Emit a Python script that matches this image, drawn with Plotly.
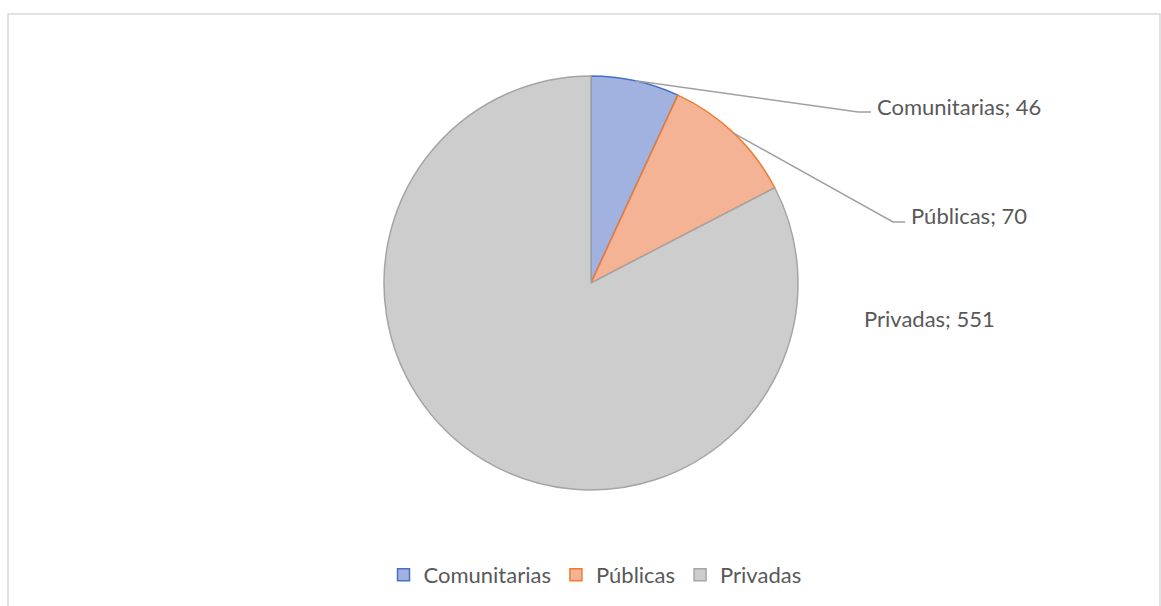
import math
import plotly.graph_objects as go

# Number of institutions by type
categories = ["Comunitarias", "Públicas", "Privadas"]
values = [46, 70, 551]

fill_colors = ["#a1b1e0", "#f5b395", "#cdcdcd"]
edge_colors = ["#4472c4", "#ed7d31", "#a5a5a5"]

W, H = 1161, 606
CX, CY, R = 591, 283, 207          # pie centre and radius in pixels
TEXT_COLOR = "#595959"
FONT = "Lato"
FONT_SIZE = 22


def px(x, y):
    """Pixel position -> paper coordinates (margins are zero)."""
    return x / W, 1 - y / H


fig = go.Figure()
fig.add_trace(go.Pie(
    labels=categories,
    values=values,
    sort=False,
    direction="clockwise",
    rotation=0,
    textinfo="none",
    hoverinfo="label+value",
    marker=dict(colors=fill_colors, line=dict(color=edge_colors, width=1.5)),
    domain=dict(x=[(CX - R) / W, (CX + R) / W], y=[1 - (CY + R) / H, 1 - (CY - R) / H]),
))

# Data label placement: elbow of the leader line and text anchor (pixels)
label_layout = {
    "Comunitarias": dict(elbow=(858, 112), end=(871, 112), text=(875, 106), line=True),
    "Públicas": dict(elbow=(893, 222), end=(905, 222), text=(909, 215), line=True),
    "Privadas": dict(elbow=None, end=None, text=(862, 318), line=False),
}

total = sum(values)
cum = 0
shapes = []
annotations = []
for cat, val in zip(categories, values):
    mid = (cum + val / 2) / total * 2 * math.pi
    cum += val
    sx = CX + R * math.sin(mid)
    sy = CY - R * math.cos(mid)
    lay = label_layout[cat]
    if lay["line"]:
        pts = [(sx, sy), lay["elbow"], lay["end"]]
        path = "M " + " L ".join(f"{px(*p)[0]},{px(*p)[1]}" for p in pts)
        shapes.append(dict(type="path", xref="paper", yref="paper", path=path,
                           line=dict(color="#a0a0a0", width=1.5)))
    tx, ty = px(*lay["text"])
    annotations.append(dict(
        x=tx, y=ty, xref="paper", yref="paper", xanchor="left", yanchor="middle",
        text=f"{cat}; {val}", showarrow=False,
        font=dict(family=FONT, size=FONT_SIZE, color=TEXT_COLOR),
    ))

# Chart area border
x0, y0 = px(8, 14)
x1, y1 = px(1160, H + 5)
shapes.append(dict(type="rect", xref="paper", yref="paper", x0=x0, y0=y1, x1=x1, y1=y0,
                   line=dict(color="#d9d9d9", width=1.5), fillcolor="rgba(0,0,0,0)",
                   layer="below"))

fig.update_layout(
    width=W, height=H,
    margin=dict(l=0, r=0, t=0, b=0),
    paper_bgcolor="white",
    plot_bgcolor="white",
    shapes=shapes,
    annotations=annotations,
    showlegend=True,
    legend=dict(
        orientation="h", x=595 / W, xanchor="center", y=1 - 575 / H, yanchor="middle",
        font=dict(family=FONT, size=FONT_SIZE, color=TEXT_COLOR),
        itemclick=False, itemdoubleclick=False, traceorder="normal",
    ),
)

fig.write_html("out.html")
